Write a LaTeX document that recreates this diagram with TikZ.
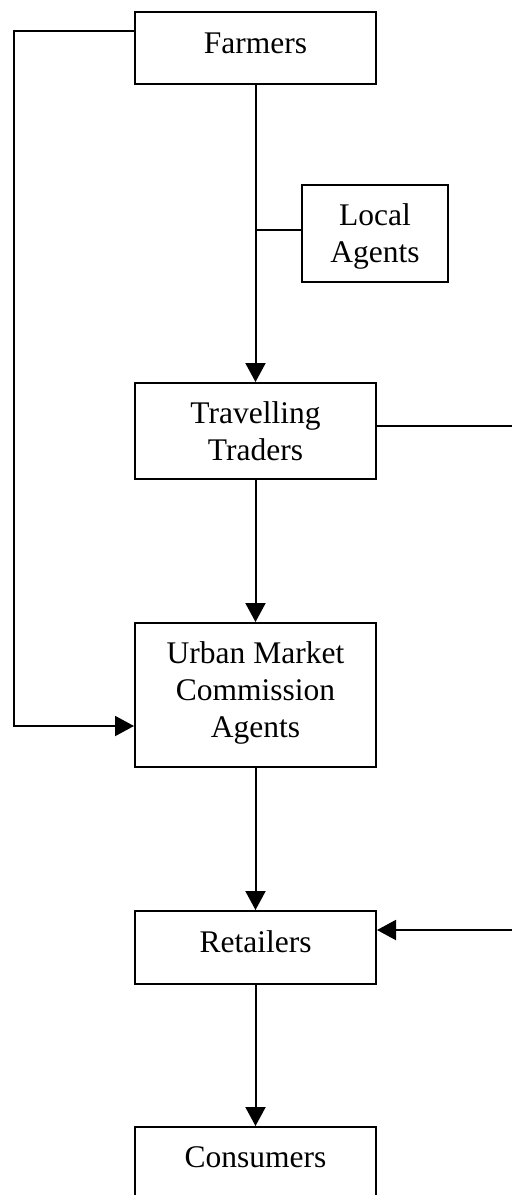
\documentclass[tikz,border=0pt]{standalone}
\usepackage{fontspec}
\setmainfont{Liberation Serif}
\usetikzlibrary{arrows.meta}
\begin{document}
\begin{tikzpicture}[x=1pt,y=-1pt,
  box/.style={draw,line width=2pt,inner sep=0pt,minimum width=241pt},
  lbl/.style={anchor=base,align=center,inner sep=0pt,font=\fontsize{31.5}{37}\selectfont},
  conn/.style={line width=2pt},
  arr/.style={line width=2pt,-{Triangle[length=19pt,width=20pt]}}]
\useasboundingbox (0,0) rectangle (512,1195);
\clip (0,0) rectangle (512,1195);
% boxes
\node[box,minimum height=72pt] (farm) at (255.5,48) {};
\node[box,minimum width=146pt,minimum height=97pt] (la) at (375,233.5) {};
\node[box,minimum height=96pt] (tt) at (255.5,431) {};
\node[box,minimum height=144pt] (umca) at (255.5,695) {};
\node[box,minimum height=73pt] (ret) at (255.5,947.5) {};
\node[box,minimum height=100pt] (cons) at (255.5,1177) {};
% labels
\node[lbl] (tfarm) at (255.5,53) {Farmers};
\node[lbl] (tla) at (375,262) {Local\\Agents};
\node[lbl] (ttt) at (255.5,460) {Travelling\\Traders};
\node[lbl] (tumca) at (255.5,737) {Urban Market\\Commission\\Agents};
\node[lbl] (tret) at (255.5,952) {Retailers};
\node[lbl] (tcons) at (255.5,1167) {Consumers};
% connectors
\coordinate (r1) at (512,426);
\coordinate (r2) at (512,930);
\draw[arr] ([yshift=17pt]farm.west) -- ++(-120,0) |- ([yshift=-31pt]umca.west);
\draw[arr] (farm.south) -- (tt.north);
\draw[conn] ([yshift=3.5pt]la.west) -- ([yshift=3.5pt]la.west -| farm.south);
\draw[arr] (tt.south) -- (umca.north);
\draw[arr] (umca.south) -- (ret.north);
\draw[arr] (ret.south) -- (cons.north);
\draw[line width=1.2pt] ([yshift=5pt]tt.east) -- (r1);
\draw[arr] (r2) -- ([yshift=17.5pt]ret.east);
\end{tikzpicture}
\end{document}
